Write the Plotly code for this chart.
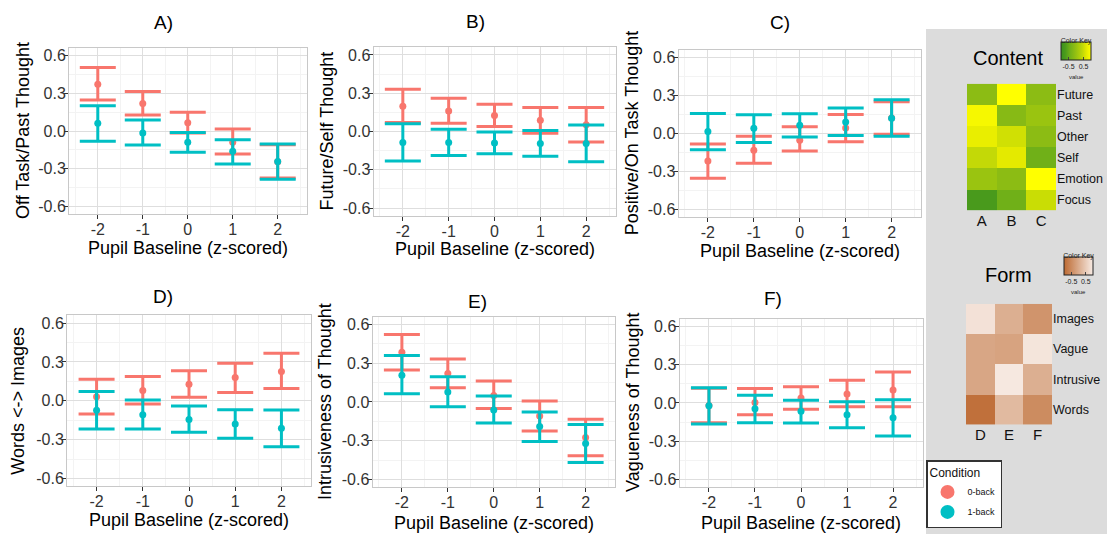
import plotly.graph_objects as go

W, H = 1107, 535

# ---------------- data ----------------
pupil = [-2, -1, 0, 1, 2]
x_tick_text = ['-2', '-1', '0', '1', '2']
y_ticks = [-0.6, -0.3, 0.0, 0.3, 0.6]
y_tick_text = ['-0.6', '-0.3', '0.0', '0.3', '0.6']

panel_titles = ['A)', 'B)', 'C)', 'D)', 'E)', 'F)']
y_titles = ['Off Task/Past Thought', 'Future/Self Thought', 'Positive/On Task Thought',
            'Words <-> Images', 'Intrusiveness of Thought', 'Vagueness of Thought']
x_title = 'Pupil Baseline (z-scored)'
conditions = ['0-back', '1-back']

# Panel A
A_0_mean = [0.374, 0.220, 0.066, -0.090, -0.245]
A_0_low = [0.247, 0.127, -0.015, -0.183, -0.375]
A_0_high = [0.507, 0.316, 0.149, 0.016, -0.110]
A_1_mean = [0.061, -0.016, -0.090, -0.162, -0.244]
A_1_low = [-0.082, -0.111, -0.170, -0.263, -0.385]
A_1_high = [0.202, 0.088, -0.011, -0.069, -0.103]
# Panel B
B_0_mean = [0.198, 0.161, 0.125, 0.089, 0.053]
B_0_low = [0.070, 0.065, 0.039, -0.013, -0.083]
B_0_high = [0.331, 0.260, 0.214, 0.188, 0.188]
B_1_mean = [-0.086, -0.086, -0.091, -0.094, -0.094]
B_1_low = [-0.232, -0.188, -0.174, -0.193, -0.237]
B_1_high = [0.060, 0.018, -0.003, 0.008, 0.052]
# Panel C
C_0_mean = [-0.220, -0.134, -0.055, 0.042, 0.120]
C_0_low = [-0.356, -0.238, -0.141, -0.068, -0.008]
C_0_high = [-0.084, -0.024, 0.052, 0.149, 0.250]
C_1_mean = [0.013, 0.039, 0.063, 0.089, 0.118]
C_1_low = [-0.131, -0.073, -0.029, -0.018, -0.024]
C_1_high = [0.157, 0.147, 0.155, 0.200, 0.265]
# Panel D
D_0_mean = [0.031, 0.079, 0.128, 0.179, 0.226]
D_0_low = [-0.103, -0.026, 0.028, 0.064, 0.095]
D_0_high = [0.167, 0.187, 0.231, 0.290, 0.367]
D_1_mean = [-0.074, -0.108, -0.144, -0.179, -0.213]
D_1_low = [-0.218, -0.218, -0.244, -0.290, -0.356]
D_1_high = [0.072, 0.005, -0.041, -0.069, -0.072]
# Panel E
E_0_mean = [0.386, 0.221, 0.051, -0.108, -0.275]
E_0_low = [0.247, 0.111, -0.051, -0.224, -0.416]
E_0_high = [0.522, 0.334, 0.162, 0.008, -0.134]
E_1_mean = [0.208, 0.077, -0.062, -0.190, -0.321]
E_1_low = [0.064, -0.036, -0.162, -0.306, -0.468]
E_1_high = [0.360, 0.195, 0.046, -0.077, -0.175]
# Panel F
F_0_mean = [-0.020, 0.003, 0.039, 0.071, 0.102]
F_0_low = [-0.154, -0.092, -0.050, -0.029, -0.029]
F_0_high = [0.115, 0.113, 0.128, 0.178, 0.243]
F_1_mean = [-0.021, -0.045, -0.065, -0.092, -0.115]
F_1_low = [-0.165, -0.154, -0.157, -0.194, -0.259]
F_1_high = [0.120, 0.060, 0.021, 0.010, 0.026]

# Heatmaps
content_rows = ['Future', 'Past', 'Other', 'Self', 'Emotion', 'Focus']
content_cols = ['A', 'B', 'C']
content_vals = [
    [-0.10, 1.00, -0.10],
    [0.90, -0.15, 0.05],
    [0.75, 0.55, -0.10],
    [0.45, 0.70, -0.40],
    [0.05, -0.10, 1.00],
    [-0.75, -0.40, 0.50],
]
form_rows = ['Images', 'Vague', 'Intrusive', 'Words']
form_cols = ['D', 'E', 'F']
form_vals = [
    [0.85, 0.07, -0.35],
    [-0.07, -0.12, 0.90],
    [-0.07, 0.95, 0.07],
    [-0.90, 0.24, -0.48],
]
key_ticks = [-0.5, 0.5]
key_tick_text = ['-0.5', '0.5']

# ---------------- styling ----------------
FONT = 'Liberation Sans, Arial, Helvetica, sans-serif'
RED = '#F8766D'
TEAL = '#00BFC4'

panels = [
    (A_0_mean, A_0_low, A_0_high, A_1_mean, A_1_low, A_1_high),
    (B_0_mean, B_0_low, B_0_high, B_1_mean, B_1_low, B_1_high),
    (C_0_mean, C_0_low, C_0_high, C_1_mean, C_1_low, C_1_high),
    (D_0_mean, D_0_low, D_0_high, D_1_mean, D_1_low, D_1_high),
    (E_0_mean, E_0_low, E_0_high, E_1_mean, E_1_low, E_1_high),
    (F_0_mean, F_0_low, F_0_high, F_1_mean, F_1_low, F_1_high),
]

# geometry in pixels: x0, x1, y_top, y_bottom, title_x, title_y, ytitle_x, xtitle_y
geom = [
    (69, 306.5, 47.5, 213.5, 163, 22, 23, 248),
    (373.5, 615.5, 46.5, 215.5, 475, 21, 327, 249),
    (678.5, 921, 49, 216.5, 780, 22, 632, 251),
    (67, 311, 315.5, 487, 163, 297, 18, 521),
    (372.5, 615, 317, 488, 477, 302, 325, 524),
    (679.5, 922.5, 319, 488, 773, 299, 633, 524),
]


def px(x):
    return x / W


def py(y):
    return 1 - y / H


fig = go.Figure()
annotations = []
layout_axes = {}

for i, (data, g) in enumerate(zip(panels, geom)):
    n = i + 1
    xa = 'x' if n == 1 else f'x{n}'
    ya = 'y' if n == 1 else f'y{n}'
    colors = [RED, TEAL]
    for c in range(2):
        mean, low, high = data[3 * c], data[3 * c + 1], data[3 * c + 2]
        fig.add_trace(go.Scatter(
            x=pupil, y=mean, mode='markers', xaxis=xa, yaxis=ya,
            marker=dict(color=colors[c], size=7),
            error_y=dict(type='data', symmetric=False,
                         array=[h - m for h, m in zip(high, mean)],
                         arrayminus=[m - l for m, l in zip(mean, low)],
                         color=colors[c], thickness=3, width=18),
            name=conditions[c], showlegend=False, hoverinfo='skip'))
    x0, x1, yt, yb, tx, ty, ytx, xty = g
    xkey = 'xaxis' if n == 1 else f'xaxis{n}'
    ykey = 'yaxis' if n == 1 else f'yaxis{n}'
    layout_axes[xkey] = dict(
        domain=[px(x0), px(x1)], anchor=ya, range=[-2.64, 2.64],
        tickmode='array', tickvals=pupil, ticktext=x_tick_text,
        showgrid=True, gridcolor='#dedede', gridwidth=1.2,
        minor=dict(tickmode='linear', tick0=-2.5, dtick=1, showgrid=True,
                   gridcolor='#f3f3f3', gridwidth=1, ticklen=0),
        ticks='outside', ticklen=4, tickwidth=1.2, tickcolor='#333333',
        ticklabelstandoff=-3,
        tickfont=dict(size=16, color='#333333', family=FONT),
        showline=True, linecolor='#c8c8c8', linewidth=1, mirror=True,
        zeroline=False, fixedrange=True)
    layout_axes[ykey] = dict(
        domain=[py(yb), py(yt)], anchor=xa, range=[-0.66, 0.66],
        tickmode='array', tickvals=y_ticks, ticktext=y_tick_text,
        showgrid=True, gridcolor='#dedede', gridwidth=1.2,
        minor=dict(tickmode='linear', tick0=-0.45, dtick=0.3, showgrid=True,
                   gridcolor='#f3f3f3', gridwidth=1, ticklen=0),
        ticks='outside', ticklen=4, tickwidth=1.2, tickcolor='#333333',
        ticklabelstandoff=-5,
        tickfont=dict(size=16, color='#333333', family=FONT),
        showline=True, linecolor='#c8c8c8', linewidth=1, mirror=True,
        zeroline=False, fixedrange=True)
    annotations.append(dict(text=panel_titles[i], x=px(tx), y=py(ty), xref='paper', yref='paper',
                            showarrow=False, font=dict(size=19, color='black', family=FONT),
                            xanchor='center', yanchor='middle'))
    annotations.append(dict(text=y_titles[i], x=px(ytx), y=py((yt + yb) / 2), xref='paper', yref='paper',
                            showarrow=False, textangle=-90, font=dict(size=18, color='black', family=FONT),
                            xanchor='center', yanchor='middle'))
    annotations.append(dict(text=x_title, x=px((x0 + x1) / 2), y=py(xty), xref='paper', yref='paper',
                            showarrow=False, font=dict(size=18, color='black', family=FONT),
                            xanchor='center', yanchor='middle'))

# legend entries
for c, col in enumerate([RED, TEAL]):
    fig.add_trace(go.Scatter(x=[None], y=[None], mode='markers', xaxis='x', yaxis='y',
                             marker=dict(color=col, size=14), name=conditions[c],
                             legendgroup=conditions[c], showlegend=True))

# ---------------- heatmaps ----------------
content_scale = [[0, '#3a901e'], [0.15, '#4c9c1c'], [0.3, '#70b018'], [0.45, '#8cbc14'],
                 [0.7, '#bcd608'], [0.85, '#e4ea00'], [1, '#ffff00']]
form_scale = [[0, '#bd6a32'], [1, '#f7ebe4']]

fig.add_trace(go.Heatmap(
    z=content_vals, x=content_cols, y=content_rows, xaxis='x7', yaxis='y7',
    colorscale=content_scale, zmin=-1, zmax=1, xgap=0, ygap=0, hoverinfo='skip',
    colorbar=dict(orientation='h', x=px(1076), xanchor='center', y=py(33), yanchor='top',
                  len=30, lenmode='pixels', thickness=18, thicknessmode='pixels',
                  xpad=0, ypad=0, outlinecolor='#222222', outlinewidth=1,
                  tickvals=key_ticks, ticktext=key_tick_text, ticks='inside', ticklen=3,
                  tickcolor='#444444',
                  tickfont=dict(size=7, color='#222222', family=FONT),
                  title=dict(text='Color Key', side='top', font=dict(size=7, color='#222222', family=FONT)))))

fig.add_trace(go.Heatmap(
    z=form_vals, x=form_cols, y=form_rows, xaxis='x8', yaxis='y8',
    colorscale=form_scale, zmin=-1, zmax=1, xgap=0, ygap=0, hoverinfo='skip',
    colorbar=dict(orientation='h', x=px(1078.5), xanchor='center', y=py(249), yanchor='top',
                  len=29, lenmode='pixels', thickness=18, thicknessmode='pixels',
                  xpad=0, ypad=0, outlinecolor='#222222', outlinewidth=1,
                  tickvals=key_ticks, ticktext=key_tick_text, ticks='inside', ticklen=3,
                  tickcolor='#444444',
                  tickfont=dict(size=7, color='#222222', family=FONT),
                  title=dict(text='Color Key', side='top', font=dict(size=7, color='#222222', family=FONT)))))

hm_common = dict(showgrid=False, zeroline=False, showline=False, ticks='', fixedrange=True)
layout_axes['xaxis7'] = dict(domain=[px(967), px(1056)], anchor='y7', side='bottom',
                             tickfont=dict(size=15, color='#111111', family=FONT), **hm_common)
layout_axes['yaxis7'] = dict(domain=[py(210), py(83)], anchor='x7', side='right', autorange='reversed',
                             tickfont=dict(size=12.5, color='#111111', family=FONT), **hm_common)
layout_axes['xaxis8'] = dict(domain=[px(966), px(1052)], anchor='y8', side='bottom',
                             tickfont=dict(size=15, color='#111111', family=FONT), **hm_common)
layout_axes['yaxis8'] = dict(domain=[py(425), py(304)], anchor='x8', side='right', autorange='reversed',
                             tickfont=dict(size=12.5, color='#111111', family=FONT), **hm_common)

annotations += [
    dict(text='Content', x=px(1008), y=py(57), xref='paper', yref='paper', showarrow=False,
         font=dict(size=20, color='black', family=FONT), xanchor='center', yanchor='middle'),
    dict(text='Form', x=px(1008), y=py(275), xref='paper', yref='paper', showarrow=False,
         font=dict(size=20, color='black', family=FONT), xanchor='center', yanchor='middle'),
    dict(text='value', x=px(1076), y=py(76), xref='paper', yref='paper', showarrow=False,
         font=dict(size=6, color='#222222', family=FONT), xanchor='center', yanchor='middle'),
    dict(text='value', x=px(1078.5), y=py(292), xref='paper', yref='paper', showarrow=False,
         font=dict(size=6, color='#222222', family=FONT), xanchor='center', yanchor='middle'),
]

shapes = [dict(type='rect', xref='paper', yref='paper', x0=px(926), x1=1, y0=0, y1=py(28),
               fillcolor='#dcdcdc', line=dict(width=0), layer='below')]

fig.update_layout(
    width=W, height=H, margin=dict(l=0, r=0, t=0, b=0),
    paper_bgcolor='white', plot_bgcolor='white',
    font=dict(family=FONT),
    annotations=annotations, shapes=shapes,
    legend=dict(x=px(926), y=py(461), xanchor='left', yanchor='top',
                bgcolor='white', bordercolor='#333333', borderwidth=1.5,
                title=dict(text='Condition', font=dict(size=12, color='#111111', family=FONT)),
                font=dict(size=9, color='#111111', family=FONT),
                itemwidth=30, tracegroupgap=1),
    **layout_axes,
)

fig.write_html('out.html', config={'displayModeBar': False},
               post_script="document.body.style.margin='0px';")
